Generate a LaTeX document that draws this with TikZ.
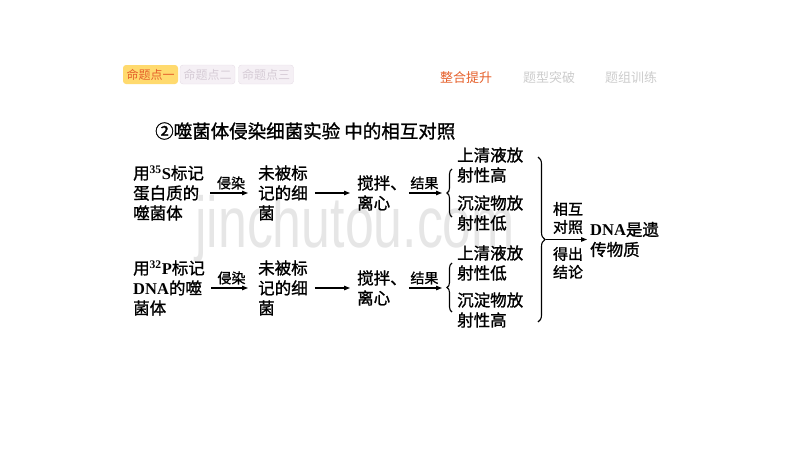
\documentclass[tikz,border=0pt]{standalone}
\usepackage{fontspec}
\usetikzlibrary{arrows.meta, decorations.pathreplacing}
\newfontfamily\cjk{Noto Sans CJK SC}
\newfontfamily\cjkb{Noto Sans CJK SC}[FakeBold=1.2]
\newfontfamily\lat{Liberation Serif}
\newfontfamily\wm{Liberation Sans}
\definecolor{tabyellow}{HTML}{FFDA6E}
\definecolor{taborange}{HTML}{E5602B}
\definecolor{tabgray}{HTML}{F5F0F5}
\definecolor{tabline}{HTML}{E6DEE6}
\definecolor{tabtext}{HTML}{D6CCD6}
\definecolor{navgray}{HTML}{CCCCCC}
\definecolor{markgray}{HTML}{E6E6E6}
\newcommand{\bt}[1]{{\lat\bfseries #1}}

\tikzset{
  txt/.style={inner sep=0pt, align=left, font=\cjkb\fontsize{16.5}{20}\selectfont},
  lbl/.style={inner sep=0pt, align=left, font=\cjkb\fontsize{14}{17}\selectfont},
  small/.style={inner sep=0pt, align=left, font=\cjkb\fontsize{15}{18}\selectfont},
  arr/.style={-{Triangle[length=6pt,width=4.5pt]}, line width=1.1pt},
  brc/.style={decorate, decoration={brace, amplitude=5pt}, line width=1.1pt},
  tab/.style={rounded corners=3pt, minimum width=55pt, minimum height=19pt, inner sep=0pt, font=\cjk\fontsize{12}{12}\selectfont},
  nav/.style={inner sep=0pt, font=\cjk\fontsize{13}{13}\selectfont},
}

\begin{document}
\begin{tikzpicture}[x=1pt, y=-1pt]
    \useasboundingbox (0,0) rectangle (800,450);
    % watermark
    \node[anchor=base west, inner sep=0pt, text=markgray, font=\wm\fontsize{72}{72}\selectfont] (mark) at (195,247) {\scalebox{0.72}[1]{jinchutou.com}};
    % header
    \node[tab, fill=tabyellow, text=taborange] (tab1) at (150.5,74.5) {命题点一};
    \node[tab, fill=tabgray, draw=tabline, text=tabtext] (tab2) at (207.5,74.5) {命题点二};
    \node[tab, fill=tabgray, draw=tabline, text=tabtext] (tab3) at (266,74.5) {命题点三};
    \node[nav, text=taborange] (nav1) at (466,78) {整合提升};
    \node[nav, text=navgray] (nav2) at (549,78) {题型突破};
    \node[nav, text=navgray] (nav3) at (631,78) {题组训练};
    % title
    \node[anchor=west, inner sep=0pt, font=\cjkb\fontsize{18.5}{20}\selectfont] (title) at (155,131) {②噬菌体侵染细菌实验 中的相互对照};
    % 35S
    \node[txt, anchor=west] (src1) at (133,193) {用\bt{\textsuperscript{35}S}标记\\蛋白质的\\噬菌体};
    \node[txt, anchor=west] (bac1) at (258,193) {未被标\\记的细\\菌};
    \node[txt, anchor=west] (mix1) at (357,193) {搅拌、\\离心};
    \coordinate (b1) at (442,193);
    \draw[arr, shorten <=6pt, shorten >=10pt] (src1.east) -- node[lbl, above=3pt]{侵染} (bac1.west);
    \draw[arr, shorten <=7pt, shorten >=7pt] (bac1.east) -- (mix1.west);
    \draw[arr, shorten <=2pt] (mix1.east) -- node[lbl, above=3pt]{结果} (b1);
    \draw[brc] (452,217) -- (452,169);
    \node[txt, anchor=west] (res1a) at (457,165) {上清液放\\射性高};
    \node[txt, anchor=west] (res1b) at (457,213) {沉淀物放\\射性低};
    % 32P
    \node[txt, anchor=west] (src2) at (133,288) {用\bt{\textsuperscript{32}P}标记\\\bt{DNA}的噬\\菌体};
    \node[txt, anchor=west] (bac2) at (258,288) {未被标\\记的细\\菌};
    \node[txt, anchor=west] (mix2) at (357,288) {搅拌、\\离心};
    \coordinate (b2) at (442,288);
    \draw[arr, shorten <=6pt, shorten >=10pt] (src2.east) -- node[lbl, above=3pt]{侵染} (bac2.west);
    \draw[arr, shorten <=7pt, shorten >=7pt] (bac2.east) -- (mix2.west);
    \draw[arr, shorten <=2pt] (mix2.east) -- node[lbl, above=3pt]{结果} (b2);
    \draw[brc] (452,312) -- (452,263);
    \node[txt, anchor=west] (res2a) at (457,263) {上清液放\\射性低};
    \node[txt, anchor=west] (res2b) at (457,310) {沉淀物放\\射性高};
    % conclusion
    \draw[brc, decoration={amplitude=7pt}] (538,157) -- (538,322);
    \coordinate (tip) at (546,239.5);
    \node[txt, anchor=west] (concl) at (590,239.5) {\bt{DNA}是遗\\传物质};
    \draw[arr, shorten >=3pt] (tip) -- node[small, above=5pt]{相互\\对照} node[small, below=7pt]{得出\\结论} (concl.west);
\end{tikzpicture}
\end{document}
